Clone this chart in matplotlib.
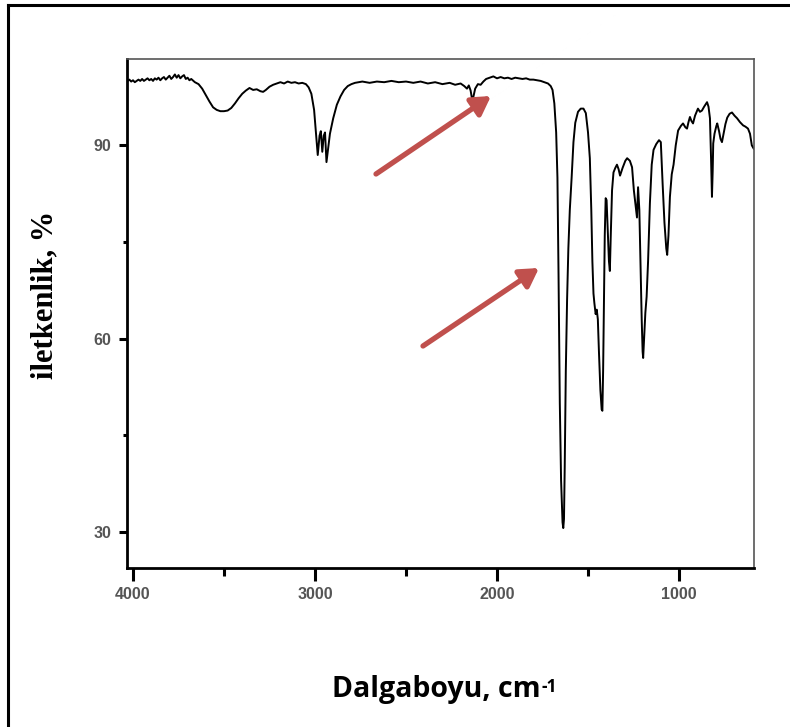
import matplotlib
matplotlib.use("Agg")
import matplotlib.pyplot as plt
from matplotlib.ticker import FixedLocator

# Wavenumber (cm-1) and transmittance (%)
wavenumber = [
    4030, 4020, 4010, 4000, 3990, 3980, 3970, 3960, 3950, 3940, 3930, 3920, 3910, 3900,
    3890, 3880, 3870, 3860, 3850, 3840, 3830, 3820, 3810, 3800, 3790, 3780, 3770,
    3760, 3750, 3740, 3730, 3720, 3710, 3700, 3690, 3680, 3660, 3640, 3620, 3600, 3580, 3560, 3540, 3520, 3500,
    3480, 3460, 3440, 3420, 3400, 3380, 3360, 3340, 3320, 3300, 3285, 3270, 3250, 3230,
    3210, 3190, 3170, 3150, 3130, 3110, 3090, 3070, 3050, 3035, 3020, 3005, 2995, 2985,
    2975, 2968, 2960, 2952, 2945, 2937, 2928, 2918, 2900, 2880, 2860, 2840, 2820, 2800,
    2780, 2760, 2740, 2700, 2660, 2620, 2580, 2540, 2500, 2460, 2420, 2380, 2340, 2300,
    2260, 2230, 2200, 2180, 2165, 2155, 2145, 2138, 2130, 2120, 2105, 2090, 2075, 2060,
    2040, 2020, 2000, 1980, 1960, 1940, 1920, 1900, 1880, 1860, 1840, 1820, 1800, 1780,
    1760, 1740, 1720, 1705, 1695, 1685, 1675, 1668, 1662, 1655, 1648, 1640, 1636, 1632,
    1628, 1622, 1615, 1608, 1600, 1590, 1580, 1570, 1555, 1540, 1525, 1512, 1500, 1490,
    1482, 1476, 1470, 1465, 1458, 1452, 1446, 1440, 1432, 1425, 1421, 1417, 1412, 1408,
    1403, 1398, 1392, 1385, 1380, 1375, 1368, 1360, 1350, 1341, 1332, 1324, 1310, 1295,
    1285, 1270, 1258, 1248, 1240, 1231, 1225, 1218, 1212, 1205, 1200, 1197, 1192, 1185,
    1178, 1170, 1160, 1150, 1140, 1125, 1110, 1100, 1090, 1080, 1070, 1065, 1058, 1050,
    1040, 1030, 1018, 1005, 990, 978, 965, 956, 948, 940, 932, 923, 912, 896,
    885, 874, 862, 846, 838, 830, 824, 819, 815, 812, 805, 795, 790, 780,
    772, 764, 755, 745, 735, 722, 709, 695, 681, 665, 648, 635, 621, 610,
    600, 590,
]
transmittance = [
    100.0, 100.2, 99.9, 100.1, 99.8, 100.0, 100.2, 100.0, 100.3, 100.0, 100.2, 100.4, 100.1, 100.3,
    100.0, 100.4, 100.2, 100.5, 100.1, 100.4, 100.6, 100.2, 100.5, 100.8, 100.3, 100.6, 101.0,
    100.5, 100.9, 100.4, 100.7, 100.9, 100.3, 100.5, 100.1, 100.3, 99.8, 99.5, 98.8, 97.8, 96.8, 95.9, 95.5, 95.3, 95.3,
    95.4, 95.8, 96.5, 97.3, 98.0, 98.5, 98.9, 98.6, 98.7, 98.4, 98.3, 98.6, 99.1, 99.4,
    99.6, 99.8, 99.6, 99.9, 99.7, 99.8, 99.6, 99.7, 99.5, 99.0, 98.0, 95.5, 92.0, 88.5,
    91.5, 92.2, 89.0, 91.5, 92.0, 87.4, 89.5, 91.8, 94.2, 96.3, 97.6, 98.6, 99.2, 99.5,
    99.7, 99.8, 99.9, 99.7, 99.9, 99.8, 100.0, 99.8, 99.9, 99.7, 99.9, 99.6, 99.8, 99.5,
    99.7, 99.4, 99.6, 99.2, 98.8, 99.3, 98.5, 97.3, 97.5, 98.8, 99.5, 99.4, 99.9, 100.3,
    100.5, 100.7, 100.4, 100.6, 100.4, 100.5, 100.3, 100.5, 100.4, 100.3, 100.4, 100.2, 100.2, 100.1,
    100.0, 99.8, 99.6, 99.2, 98.6, 96.5, 92.0, 85.0, 70.0, 50.0, 38.0, 31.5, 30.6, 32.0,
    40.0, 55.0, 66.0, 74.0, 80.0, 85.0, 90.5, 93.5, 95.2, 95.7, 95.7, 95.0, 92.0, 88.0,
    80.0, 72.0, 67.0, 65.5, 63.8, 64.5, 63.0, 58.0, 52.0, 49.0, 48.8, 55.0, 66.0, 76.0,
    81.8, 81.5, 77.0, 72.0, 70.5, 76.0, 83.0, 85.8, 86.5, 87.0, 86.3, 85.3, 86.5, 87.6,
    88.0, 87.6, 86.6, 83.0, 81.0, 78.8, 83.5, 80.0, 72.0, 63.0, 58.0, 57.0, 60.0, 64.0,
    66.5, 72.0, 81.0, 87.0, 89.3, 90.2, 90.8, 90.5, 84.0, 78.0, 74.0, 73.0, 76.0, 82.0,
    85.5, 87.0, 90.0, 92.3, 93.0, 93.4, 92.8, 92.6, 93.6, 94.4, 93.8, 93.4, 94.6, 95.7,
    95.2, 95.4, 96.0, 96.7, 96.0, 94.2, 88.0, 82.0, 86.0, 90.3, 91.8, 93.0, 93.4, 92.2,
    91.0, 90.5, 91.8, 93.3, 94.3, 94.9, 95.1, 94.6, 94.2, 93.6, 93.1, 92.9, 92.6, 91.8,
    90.0, 89.5,
]

x_major = [4000, 3000, 2000, 1000]
x_minor = [3500, 2500, 1500]
y_major = [30, 60, 90]
y_minor = [45, 75]

W, H = 790, 727
fig = plt.figure(figsize=(W / 100, H / 100), dpi=100)
fig.patch.set_facecolor("white")

ax = fig.add_axes([127 / W, 1 - 568 / H, (754 - 127) / W, (568 - 59) / H])
ax.plot(wavenumber, transmittance, color="black", lw=1.4)
ax.set_xlim(4033, 588)
ax.set_ylim(24.4, 103.4)

ax.xaxis.set_major_locator(FixedLocator(x_major))
ax.xaxis.set_minor_locator(FixedLocator(x_minor))
ax.yaxis.set_major_locator(FixedLocator(y_major))
ax.yaxis.set_minor_locator(FixedLocator(y_minor))
ax.set_xticklabels([str(v) for v in x_major])
ax.set_yticklabels([str(v) for v in y_major])

for s in ["left", "bottom"]:
    ax.spines[s].set_linewidth(2.0)
    ax.spines[s].set_color("black")
for s in ["top", "right"]:
    ax.spines[s].set_linewidth(1.2)
    ax.spines[s].set_color("#555555")

ax.tick_params(axis="x", which="major", direction="out", length=9, width=2.2,
               pad=5, labelsize=11.5, labelcolor="#555555")
ax.tick_params(axis="x", which="minor", direction="out", length=6, width=2.2)
ax.tick_params(axis="y", which="major", direction="out", length=6, width=2.2,
               pad=5, labelsize=11.5, labelcolor="#555555")
ax.tick_params(axis="y", which="minor", direction="out", length=3, width=2.2)
for lab in ax.get_xticklabels() + ax.get_yticklabels():
    lab.set_fontfamily("Liberation Sans")
    lab.set_fontweight("bold")

# Y label
fig.text(45 / W, 1 - 295 / H, "iletkenlik, %", rotation=90, ha="center", va="center",
         fontsize=22, fontweight="bold", family="Liberation Serif", color="black")

# X label with superscript
t = fig.text(436 / W, 1 - 690 / H, "Dalgaboyu, cm", ha="center", va="center",
             fontsize=20.5, fontweight="bold", family="Open Sans", color="black")
fig.canvas.draw()
bb = t.get_window_extent()
fig.text((bb.x1 + 1) / W, (bb.y1 - 2) / H, "-1", ha="left", va="top",
         fontsize=12.5, fontweight="bold", family="Open Sans", color="black")

# Red arrows
red = "#c0504d"
for (x0, y0), (x1, y1) in [((376, 174), (491, 96)), ((423, 346), (539, 268))]:
    ax.annotate("", xy=(x1, H - y1), xytext=(x0, H - y0),
                xycoords="figure pixels", textcoords="figure pixels",
                arrowprops=dict(arrowstyle="-|>,head_length=1.1,head_width=0.65",
                                color=red, lw=3.8, shrinkA=0, shrinkB=0))

# Outer frame (left and top edges)
fig.add_artist(plt.Line2D([8 / W, 8 / W], [0, 1 - 5 / H], transform=fig.transFigure,
                          color="black", lw=2.2))
fig.add_artist(plt.Line2D([8 / W, 1], [1 - 5 / H, 1 - 5 / H], transform=fig.transFigure,
                          color="black", lw=2.2))

fig.savefig("out.png", dpi=100)
